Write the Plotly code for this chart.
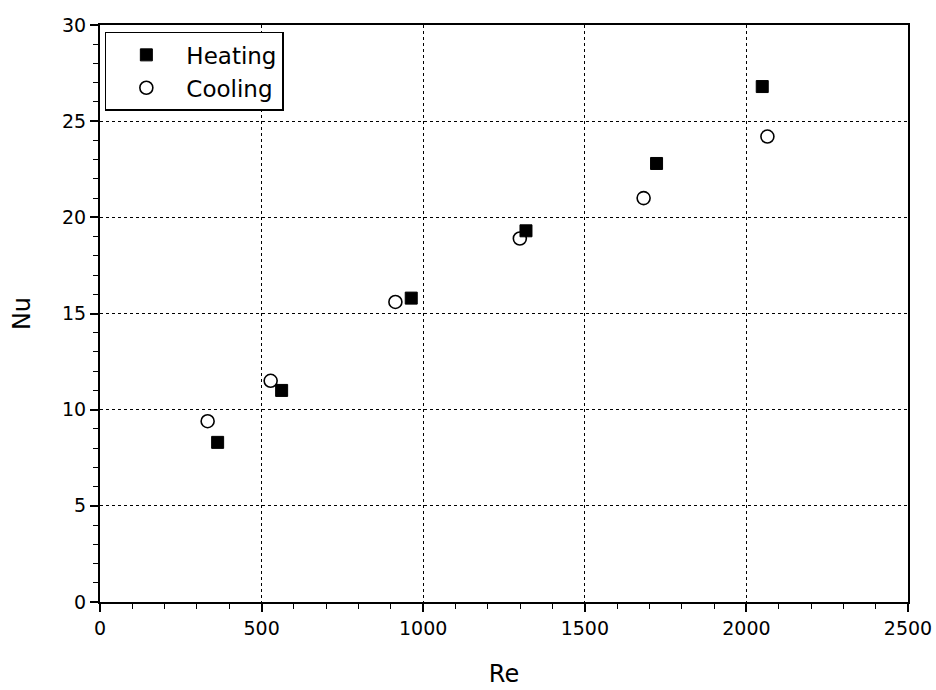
import plotly.graph_objects as go

re_heating = [364, 562, 963, 1318, 1722, 2049]
nu_heating = [8.3, 11.0, 15.8, 19.3, 22.8, 26.8]
re_cooling = [333, 528, 914, 1299, 1682, 2065]
nu_cooling = [9.4, 11.5, 15.6, 18.9, 21.0, 24.2]

x_ticks = [0, 500, 1000, 1500, 2000, 2500]
y_ticks = [0, 5, 10, 15, 20, 25, 30]

fig = go.Figure()
fig.add_trace(go.Scatter(x=re_heating, y=nu_heating, mode="markers", name="Heating",
                         marker=dict(symbol="square", size=12, color="black",
                                     line=dict(color="black", width=1))))
fig.add_trace(go.Scatter(x=re_cooling, y=nu_cooling, mode="markers", name="Cooling",
                         marker=dict(symbol="circle-open", size=13, color="black",
                                     line=dict(color="black", width=1.6))))

font_family = "DejaVu Sans, Arial, sans-serif"
axis_common = dict(
    showline=True, linecolor="black", linewidth=2, mirror=True,
    showgrid=True, gridcolor="black", gridwidth=1, griddash="dot",
    ticks="outside", ticklen=8, tickwidth=1.5, tickcolor="black",
    zeroline=False, automargin=False,
    tickfont=dict(family=font_family, size=19, color="black"),
)

fig.update_xaxes(range=[0, 2500], tickvals=x_ticks,
                 minor=dict(dtick=100, ticks="outside", ticklen=5, tickwidth=1.2, tickcolor="black"),
                 title=dict(text="Re", font=dict(family=font_family, size=24, color="black"), standoff=27),
                 **axis_common)
fig.update_yaxes(range=[0, 30], tickvals=y_ticks,
                 minor=dict(dtick=1, ticks="outside", ticklen=5, tickwidth=1.2, tickcolor="black"),
                 title=dict(text="Nu", font=dict(family=font_family, size=24, color="black"), standoff=25),
                 **axis_common)

fig.update_layout(
    width=936, height=690,
    margin=dict(l=100, r=28, t=25, b=88),
    plot_bgcolor="white", paper_bgcolor="white",
    font=dict(family=font_family, color="black"),
    legend=dict(x=0.006, y=0.988, xanchor="left", yanchor="top",
                bordercolor="black", borderwidth=1.5, bgcolor="white",
                font=dict(family=font_family, size=23, color="black"),
                itemwidth=70),
    showlegend=True,
)

fig.write_html("out.html")
